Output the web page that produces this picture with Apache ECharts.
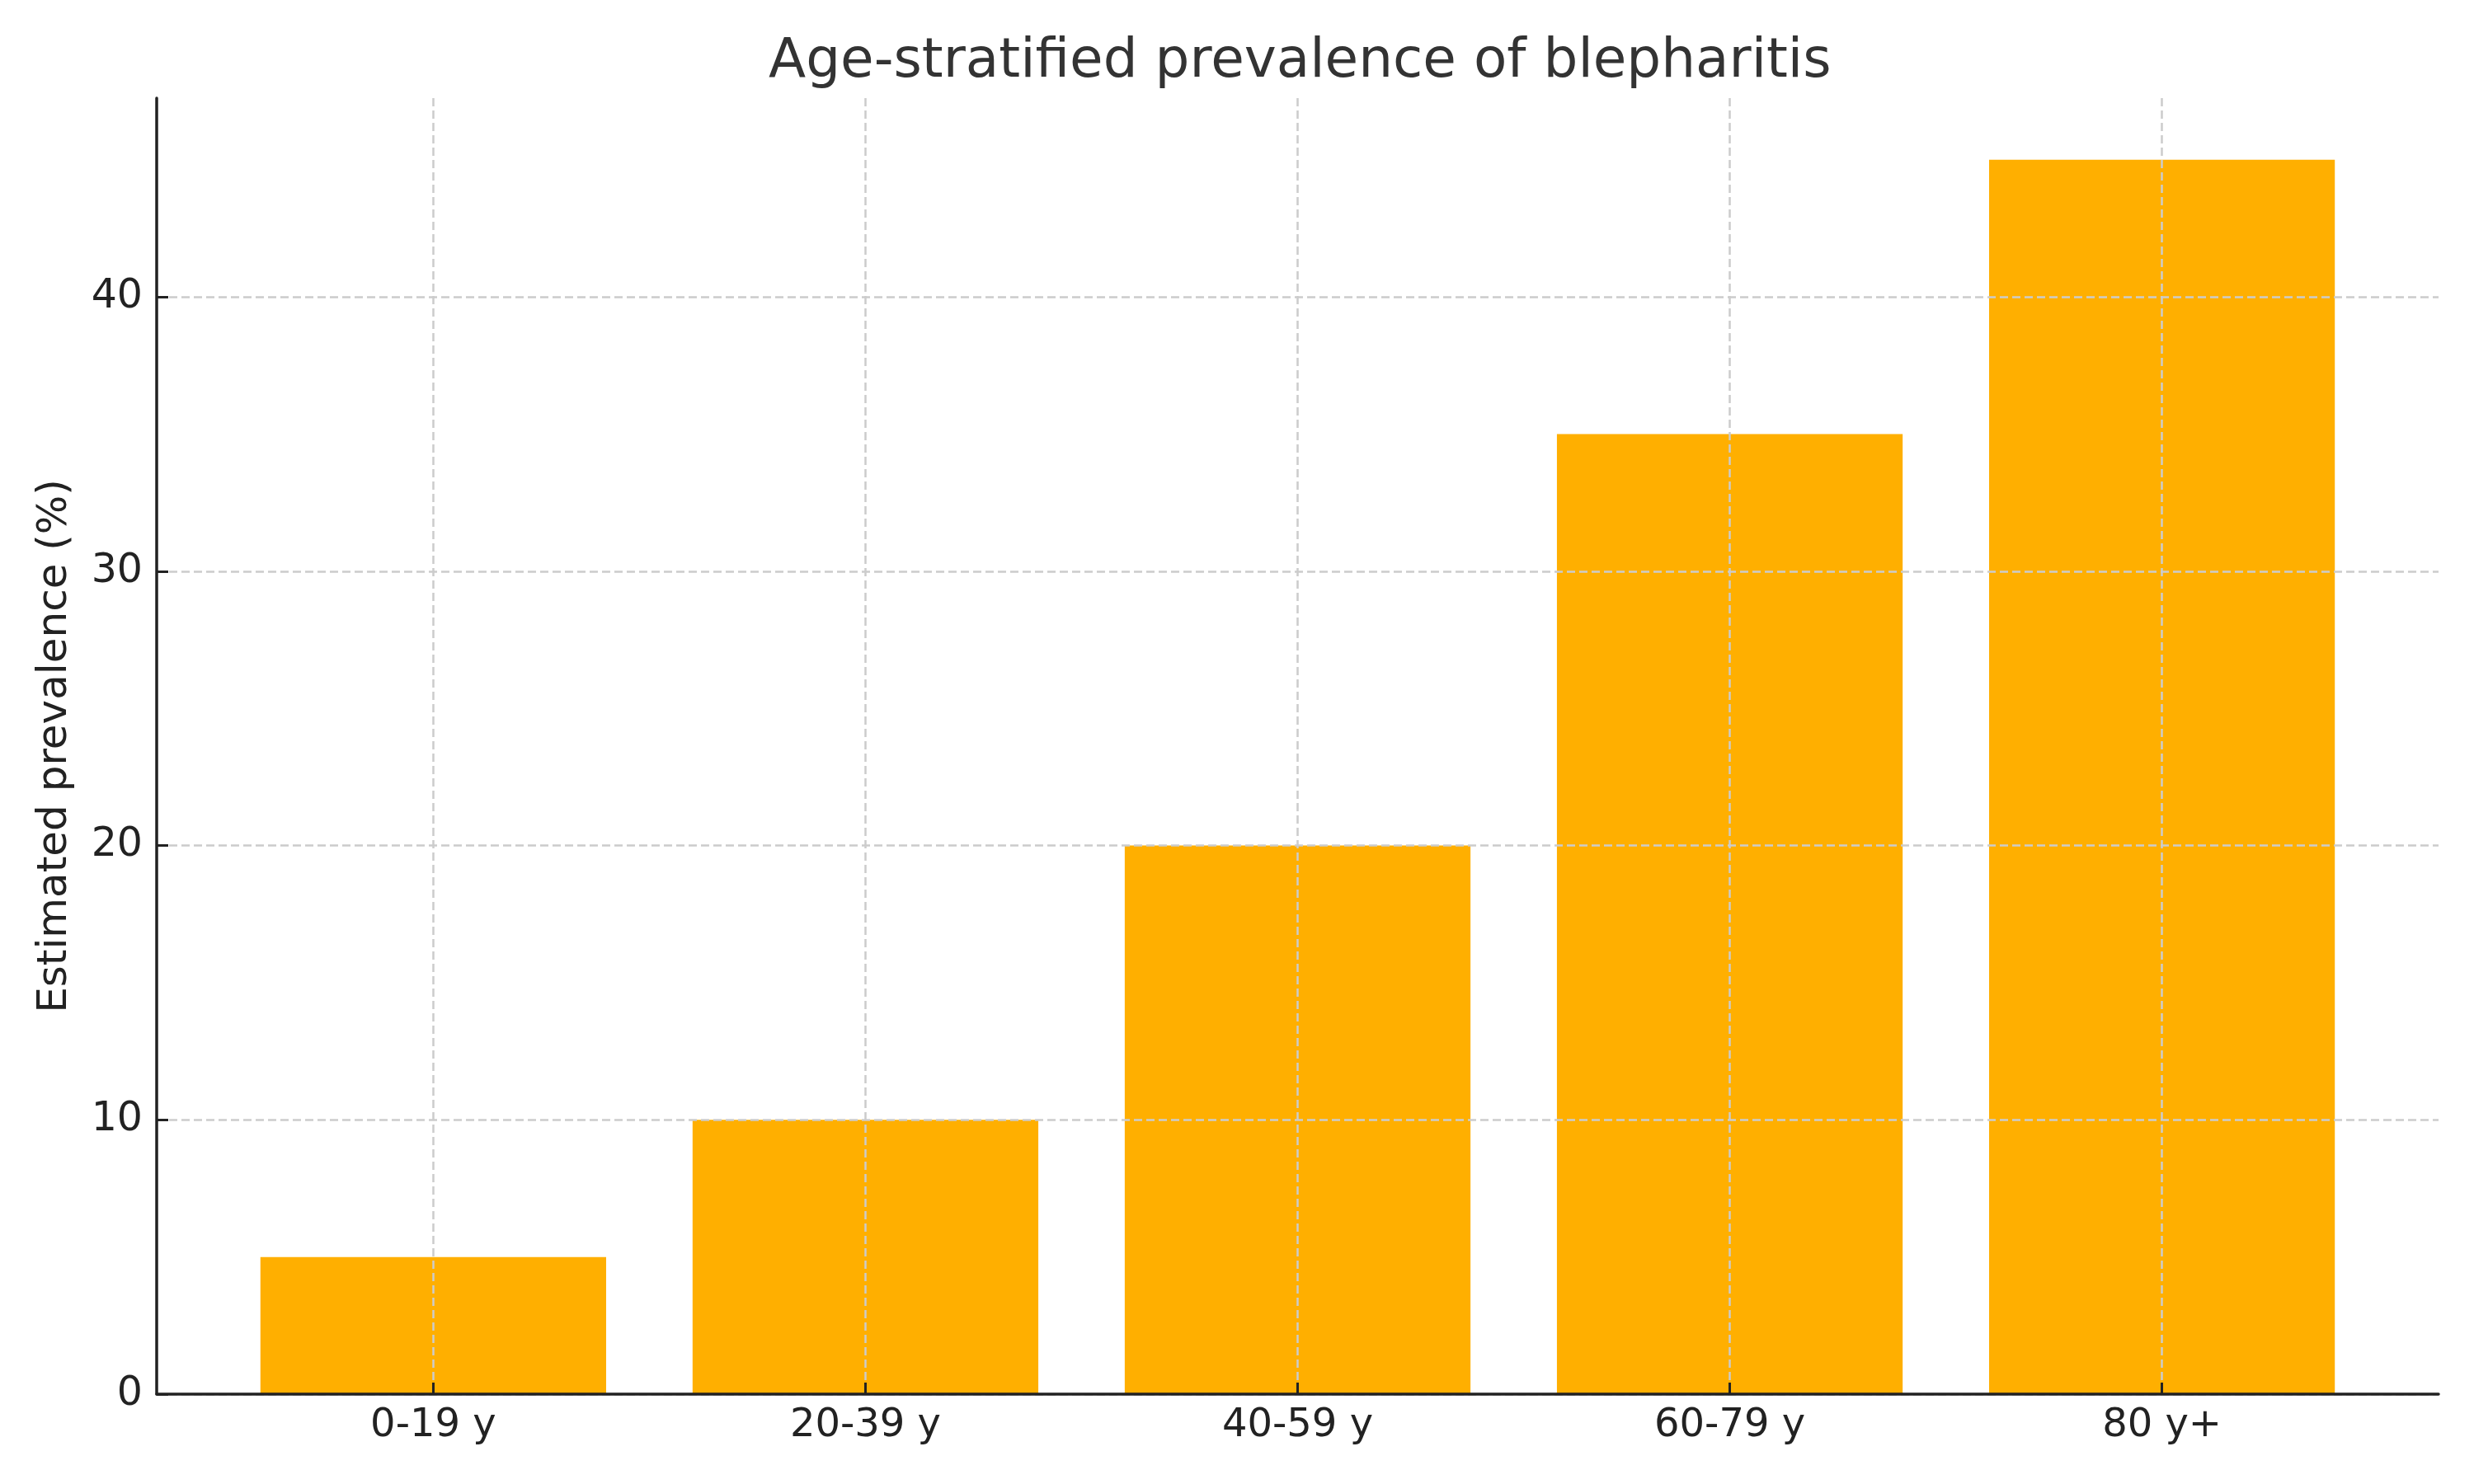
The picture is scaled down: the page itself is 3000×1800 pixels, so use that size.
<!DOCTYPE html>
<html>
<head>
<meta charset="utf-8">
<title>Age-stratified prevalence of blepharitis</title>
<script src="https://cdn.jsdelivr.net/npm/echarts@6/dist/echarts.min.js"></script>
<style>
  html, body { margin: 0; padding: 0; background: #fff; }
  #chart { width: 3000px; height: 1800px; }
</style>
</head>
<body>
<div id="chart"></div>
<script>
  const categories = ['0-19 y', '20-39 y', '40-59 y', '60-79 y', '80 y+'];
  const prevalence = [5, 10, 20, 35, 45];
  const yTicks = [0, 10, 20, 30, 40];

  const chart = echarts.init(document.getElementById('chart'));

  const font = 'DejaVu Sans';
  const grid = { left: 190, right: 43, top: 119, bottom: 109 };
  // matplotlib-like x range: bars span -0.4..4.4 plus 5% margin
  const xMin = -0.64, xMax = categories.length - 1 + 0.64;
  const plotW = 3000 - grid.left - grid.right;
  const barW = plotW * 0.8 / (xMax - xMin);
  const xIdx = categories.map((c, i) => i);

  const gridLine = { show: true, lineStyle: { color: '#cccccc', width: 2.5, type: [10, 5] } };

  const option = {
    backgroundColor: '#ffffff',
    animation: false,
    title: {
      text: 'Age-stratified prevalence of blepharitis',
      left: 927,
      top: 38,
      textStyle: { fontFamily: font, fontSize: 66, fontWeight: 'normal', color: '#333333' }
    },
    grid: grid,
    xAxis: {
      type: 'value',
      min: xMin,
      max: xMax,
      z: 5,
      axisLine: { show: true, onZero: false, lineStyle: { color: '#222222', width: 3.5 } },
      axisTick: { show: true, inside: true, length: 14, customValues: xIdx, lineStyle: { color: '#222222', width: 3 } },
      axisLabel: {
        customValues: xIdx,
        formatter: v => categories[Math.round(v)],
        fontFamily: font, fontSize: 48, color: '#222222', margin: 15
      },
      splitLine: gridLine
    },
    yAxis: {
      type: 'value',
      min: 0,
      max: 47.25,
      z: 5,
      name: 'Estimated prevalence (%)',
      nameLocation: 'middle',
      nameRotate: 90,
      nameGap: 98,
      nameTextStyle: { fontFamily: font, fontSize: 50, color: '#222222' },
      axisLine: { show: true, onZero: false, lineStyle: { color: '#222222', width: 3.5 } },
      axisTick: { show: true, inside: true, length: 14, customValues: yTicks, lineStyle: { color: '#222222', width: 3 } },
      axisLabel: { customValues: yTicks, fontFamily: font, fontSize: 49, color: '#222222', margin: 17 },
      splitLine: gridLine
    },
    series: [{
      type: 'bar',
      data: prevalence.map((v, i) => [i, v]),
      barWidth: barW,
      itemStyle: { color: '#FFAF00' },
      z: 1
    }]
  };

  chart.setOption(option);
</script>
</body>
</html>
